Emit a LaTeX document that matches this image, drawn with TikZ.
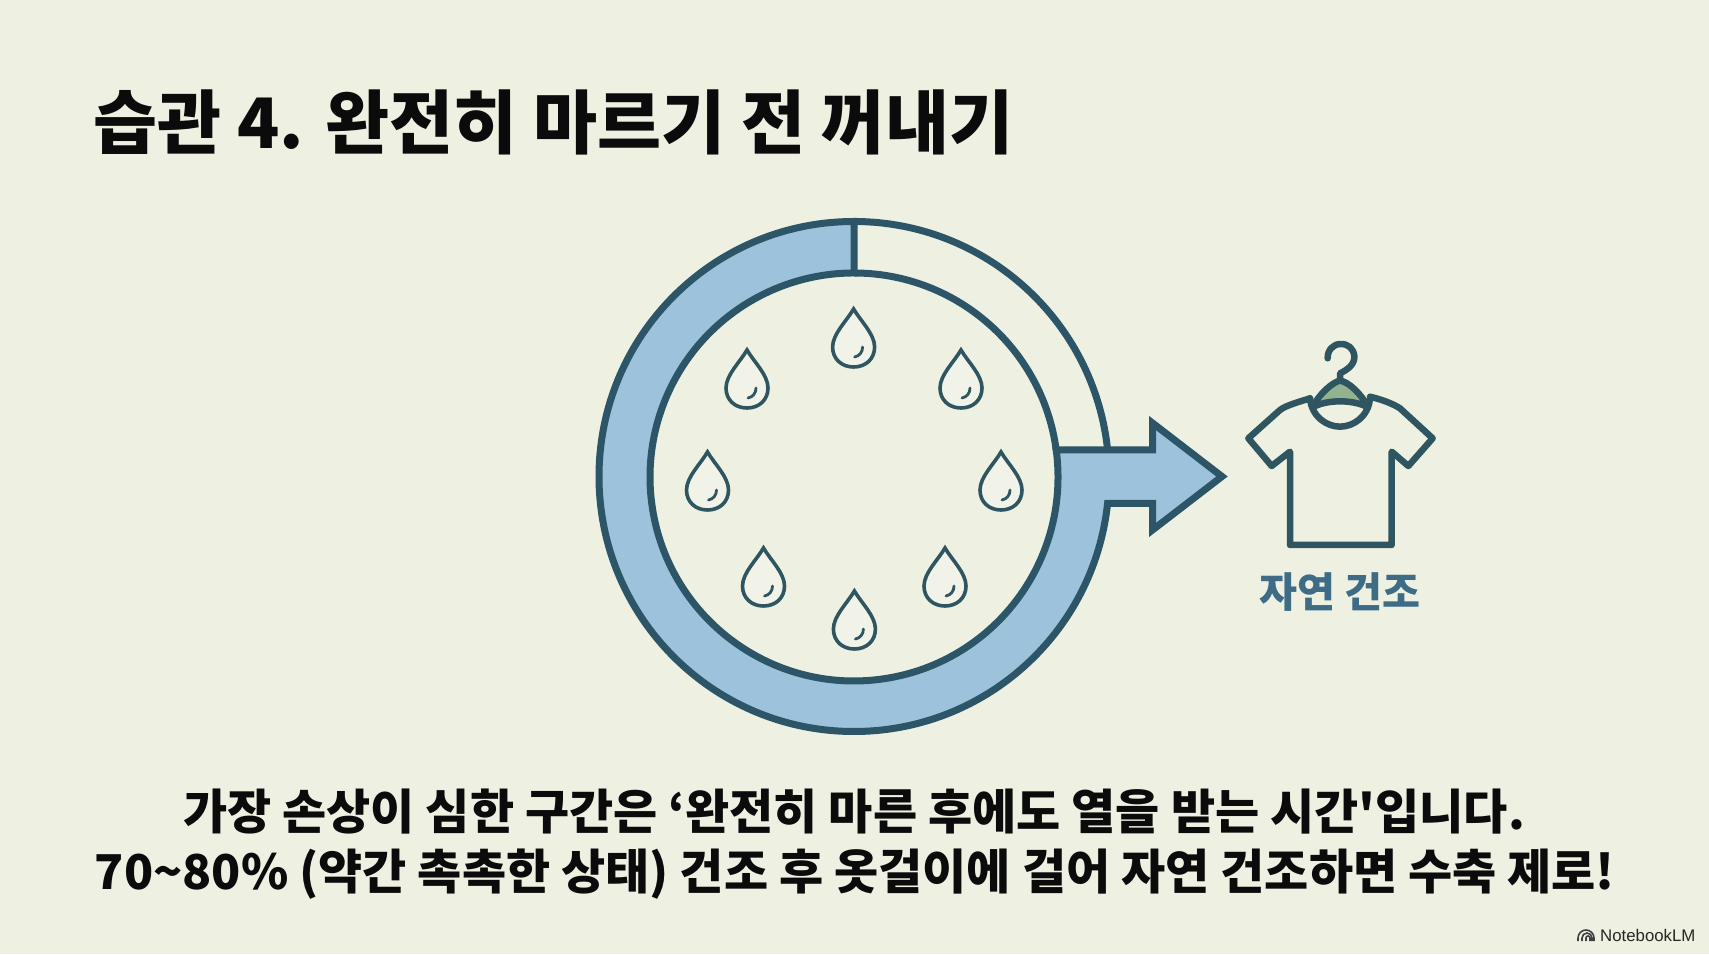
\documentclass[tikz,border=0pt]{standalone}
\usepackage{fontspec}
\setmainfont{Liberation Sans}
\newfontfamily\krfont{Noto Sans CJK KR}
\definecolor{bgc}{HTML}{EEF0E2}
\definecolor{ringblue}{HTML}{9DC3DC}
\definecolor{inkc}{HTML}{2C5568}
\definecolor{shirtc}{HTML}{2E5560}
\definecolor{labelc}{HTML}{3E6B85}
\definecolor{greenc}{HTML}{93B28F}
\definecolor{textc}{HTML}{0B0B0B}
\tikzset{
  x=1pt,y=1pt,
  ringline/.style={draw=inkc,line width=7pt,line join=miter},
  dropline/.style={draw=shirtc,line width=3.6pt,line cap=round,line join=miter},
  shirtline/.style={draw=shirtc,line width=6.5pt,line cap=round,line join=round},
  pics/drop/.style={code={
    \draw[dropline,fill=bgc!80!white] (0,29) .. controls (7,17) and (21,4) .. (21,-9)
      .. controls (21,-21) and (12,-29) .. (0,-29)
      .. controls (-12,-29) and (-21,-21) .. (-21,-9)
      .. controls (-21,4) and (-7,17) .. cycle;
    \draw[dropline,line width=2.8pt] (1,-19) .. controls (6,-18) and (9,-14) .. (9,-9);
  }},
  headtext/.style={font=\krfont\bfseries\fontsize{69.6}{74}\selectfont,text=textc,inner sep=0pt},
  bodytext/.style={font=\krfont\bfseries\fontsize{48}{52}\selectfont,text=textc,inner sep=0pt},
}
\begin{document}
\begin{tikzpicture}
\useasboundingbox (0,0) rectangle (1709,954);
\fill[bgc] (0,0) rectangle (1709,954);
% title
\node[headtext,anchor=center] (title) at (553.5,832) {습관 4. 완전히 마르기 전 꺼내기};
% ring with arrow
\draw[ringline,fill=ringblue] (854,732.5) arc[start angle=90,end angle=353.93,radius=255]
  -- (1152.5,450.5) -- (1152.5,424) -- (1222,477.5) -- (1152.5,531) -- (1152.5,504)
  -- (1056.2,504) arc[start angle=7.6,end angle=-270,radius=204] -- cycle;
\draw[ringline] (854,732.5) arc[start angle=90,end angle=5.95,radius=255];
\draw[ringline] (854,681) arc[start angle=90,end angle=7.6,radius=204];
% drops
\pic at (853.6,616) {drop};
\pic at (747,575) {drop};
\pic at (961,575) {drop};
\pic at (707.5,473) {drop};
\pic at (1001,473) {drop};
\pic at (763.5,377) {drop};
\pic at (945,377) {drop};
\pic at (854.4,334) {drop};
% shirt
\begin{scope}[shift={(1220,624)},x=0.33333pt,y=-0.33333pt]
  \draw[shirtline] (270,205) .. controls (240,215) and (200,225) .. (180,240) -- (85,325) -- (155,408) -- (210,365) -- (210,645) -- (515,645) -- (515,365) -- (565,408) -- (638,325) -- (540,235) .. controls (520,222) and (490,210) .. (450,200);
  \draw[shirtline,fill=greenc] (278,232) .. controls (296,192) and (340,155) .. (360,152) .. controls (385,155) and (425,192) .. (444,232) .. controls (400,208) and (320,208) .. (278,232) -- cycle;
  \draw[shirtline] (270,205) .. controls (275,260) and (320,290) .. (360,290) .. controls (400,290) and (445,260) .. (450,205);
  \draw[shirtline] (360,150) -- (360,130) .. controls (380,120) and (405,105) .. (403,78) .. controls (400,55) and (385,42) .. (362,42) .. controls (340,42) and (322,60) .. (323,85);
\end{scope}
\node[font=\krfont\bfseries\fontsize{41.3}{46}\selectfont,text=labelc,inner sep=0pt] (dry) at (1340,362) {자연 건조};
% body
\node[bodytext] (lineone) at (854,142) {가장 손상이 심한 구간은 ‘완전히 마른 후에도 열을 받는 시간'입니다.};
\node[bodytext] (linetwo) at (855,80) {70\textasciitilde80\% (약간 촉촉한 상태) 건조 후 옷걸이에 걸어 자연 건조하면 수축 제로!};
% footer
\node[font=\fontsize{16.8}{18}\selectfont,text=black!85,inner sep=0pt,anchor=west] (brand) at (1600,19) {NotebookLM};
\begin{scope}[draw=black!75,line width=1.6pt]
  \draw (1578,13) -- (1578,16) arc[start angle=180,end angle=0,radius=8] -- (1594,13);
  \draw (1582,13) -- (1582,16) arc[start angle=180,end angle=0,radius=5] -- (1592,13);
  \draw (1586,13) -- (1586,16) arc[start angle=180,end angle=0,radius=2] -- (1590,13);
\end{scope}
\end{tikzpicture}
\end{document}
